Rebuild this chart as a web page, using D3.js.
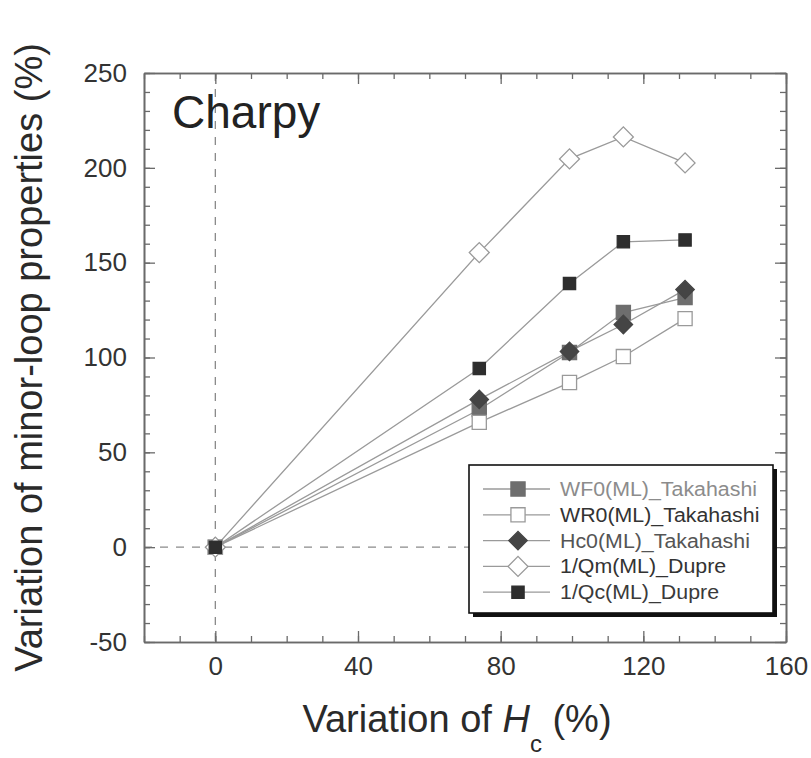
<!DOCTYPE html>
<meta charset="utf-8">
<head>
<script src="https://d3js.org/d3.v7.min.js"></script>
<style>
  body { margin: 0; background: #fff; }
  text { font-family: "Liberation Sans", Arial, Helvetica, sans-serif; }
</style>
</head>
<body>
<div id="chart"></div>
<script>
// x values (variation of Hc, %) shared by all series
var hcVar = [0, 74, 99.3, 114.4, 131.7];

var wf0 = [0, 72.6, 102.6, 123.7, 131.6];
var wr0 = [0, 65.8, 86.8, 100.5, 120.5];
var hc0 = [0, 77.9, 103.2, 117.4, 135.8];
var qm  = [0, 155.3, 204.7, 216.3, 202.6];
var qc  = [0, 94.2, 139, 161, 162];

var seriesNames = ["WF0(ML)_Takahashi", "WR0(ML)_Takahashi", "Hc0(ML)_Takahashi", "1/Qm(ML)_Dupre", "1/Qc(ML)_Dupre"];
var xTicks = [0, 40, 80, 120, 160];
var yTicks = [-50, 0, 50, 100, 150, 200, 250];

(function () {
  var W = 811, H = 758;
  var mLeft = 144, mRight = 786, mTop = 73, mBottom = 642;

  var svg = d3.select("#chart").append("svg")
    .attr("width", W).attr("height", H);

  var x = d3.scaleLinear().domain([-20, 160]).range([mLeft, mRight]);
  var y = d3.scaleLinear().domain([-50, 250]).range([mBottom, mTop]);

  var axisColor = "#6a6a6a";
  var plain = function(d) { return String(d); };  // keep ascii hyphen for -50

  // dashed zero lines
  svg.append("line")
    .attr("x1", x(0)).attr("x2", x(0)).attr("y1", mTop).attr("y2", mBottom)
    .attr("stroke", "#8a8a8a").attr("stroke-width", 1.3).attr("stroke-dasharray", "8,8");
  svg.append("line")
    .attr("x1", mLeft).attr("x2", mRight).attr("y1", y(0)).attr("y2", y(0))
    .attr("stroke", "#8a8a8a").attr("stroke-width", 1.3).attr("stroke-dasharray", "8,8");

  // axes - inward ticks on all four sides
  var xMinor = d3.range(-20, 161, 10);
  var yMinor = d3.range(-50, 251, 10);

  function styleAxis(g) {
    g.select(".domain").attr("stroke", axisColor).attr("stroke-width", 1.6);
    g.selectAll(".tick line").attr("stroke", axisColor).attr("stroke-width", 1.3);
    g.selectAll(".tick text").attr("fill", "#333").style("font-size", "26px")
      .style("font-family", "'Liberation Sans', Arial, sans-serif");
  }

  svg.append("g").attr("transform", "translate(0," + mBottom + ")")
    .call(d3.axisBottom(x).tickValues(xMinor).tickSize(-6).tickSizeOuter(0).tickFormat(""))
    .call(styleAxis);
  svg.append("g").attr("transform", "translate(0," + mBottom + ")")
    .call(d3.axisBottom(x).tickValues(xTicks).tickSize(-11).tickSizeOuter(0).tickPadding(15).tickFormat(plain))
    .call(styleAxis);
  svg.append("g").attr("transform", "translate(0," + mTop + ")")
    .call(d3.axisTop(x).tickValues(xMinor).tickSize(-6).tickSizeOuter(0).tickFormat(""))
    .call(styleAxis);
  svg.append("g").attr("transform", "translate(0," + mTop + ")")
    .call(d3.axisTop(x).tickValues(xTicks).tickSize(-11).tickSizeOuter(0).tickFormat(""))
    .call(styleAxis);

  svg.append("g").attr("transform", "translate(" + mLeft + ",0)")
    .call(d3.axisLeft(y).tickValues(yMinor).tickSize(-6).tickSizeOuter(0).tickFormat(""))
    .call(styleAxis);
  svg.append("g").attr("transform", "translate(" + mLeft + ",0)")
    .call(d3.axisLeft(y).tickValues(yTicks).tickSize(-11).tickSizeOuter(0).tickPadding(17).tickFormat(plain))
    .call(styleAxis);
  svg.append("g").attr("transform", "translate(" + mRight + ",0)")
    .call(d3.axisRight(y).tickValues(yMinor).tickSize(-6).tickSizeOuter(0).tickFormat(""))
    .call(styleAxis);
  svg.append("g").attr("transform", "translate(" + mRight + ",0)")
    .call(d3.axisRight(y).tickValues(yTicks).tickSize(-11).tickSizeOuter(0).tickFormat(""))
    .call(styleAxis);

  // series styles
  var styles = [
    { vals: wf0, shape: "square", size: 200, fill: "#6e6e6e", stroke: "#6e6e6e", text: "#8c8c8c" },
    { vals: wr0, shape: "square", size: 200, fill: "#ffffff", stroke: "#9a9a9a", text: "#333" },
    { vals: hc0, shape: "diamond", size: 170, fill: "#454545", stroke: "#454545", text: "#555" },
    { vals: qm,  shape: "diamond", size: 200, fill: "#ffffff", stroke: "#9a9a9a", text: "#333" },
    { vals: qc,  shape: "square", size: 150, fill: "#2e2e2e", stroke: "#2e2e2e", text: "#3a3a3a" }
  ];

  var line = d3.line().x(function(d) { return x(d[0]); }).y(function(d) { return y(d[1]); });
  var sym = d3.symbol().type(d3.symbolSquare);

  function drawMarker(g, s, cx, cy) {
    g.append("path")
      .attr("d", sym.size(s.size)())
      .attr("transform", "translate(" + cx + "," + cy + ")" + (s.shape === "diamond" ? " rotate(45)" : ""))
      .attr("fill", s.fill).attr("stroke", s.stroke).attr("stroke-width", 1.3);
  }

  var plot = svg.append("g");
  styles.forEach(function(s) {
    var pts = hcVar.map(function(v, i) { return [v, s.vals[i]]; });
    plot.append("path").datum(pts)
      .attr("d", line).attr("fill", "none")
      .attr("stroke", "#9a9a9a").attr("stroke-width", 1.3);
  });
  styles.forEach(function(s) {
    hcVar.forEach(function(v, i) {
      drawMarker(plot, s, x(v), y(s.vals[i]));
    });
  });

  // Charpy label
  svg.append("text").attr("x", 172).attr("y", 128)
    .attr("fill", "#222").style("font-size", "46px").text("Charpy");

  // legend
  var lg = svg.append("g");
  var lx = 469, ly = 465, lw = 304, lh = 148;
  lg.append("rect").attr("x", lx + 4).attr("y", ly + 4).attr("width", lw).attr("height", lh).attr("fill", "#111");
  lg.append("rect").attr("x", lx).attr("y", ly).attr("width", lw).attr("height", lh)
    .attr("fill", "#fff").attr("stroke", "#111").attr("stroke-width", 1.6);
  var stretch = null;
  seriesNames.forEach(function(name, i) {
    var s = styles[i];
    var ry = 489 + i * 25.8;
    lg.append("line").attr("x1", 483).attr("x2", 550).attr("y1", ry).attr("y2", ry)
      .attr("stroke", "#9a9a9a").attr("stroke-width", 1.3);
    drawMarker(lg, s, 518, ry);
    var t = lg.append("text").attr("x", 560).attr("y", ry + 7)
      .attr("fill", s.text).style("font-size", "19.5px").text(name);
    // legend lettering is a bit wider than the stock font; stretch to fit
    var w = t.node().getComputedTextLength();
    if (stretch === null) stretch = 197 / w;
    t.attr("textLength", w * stretch).attr("lengthAdjust", "spacingAndGlyphs");
  });

  // axis titles
  var xt = svg.append("text").attr("x", 457).attr("y", 732)
    .attr("text-anchor", "middle").attr("fill", "#2a2a2a").style("font-size", "38px");
  xt.append("tspan").text("Variation of ");
  xt.append("tspan").style("font-style", "italic").text("H");
  xt.append("tspan").attr("dy", 20).style("font-size", "24px").text("c");
  xt.append("tspan").attr("dy", -20).text(" (%)");

  svg.append("text")
    .attr("transform", "translate(42," + ((mTop + mBottom) / 2) + ") rotate(-90)")
    .attr("text-anchor", "middle").attr("fill", "#2a2a2a").style("font-size", "38px")
    .text("Variation of minor-loop properties  (%)");
})();
</script>
</body>
